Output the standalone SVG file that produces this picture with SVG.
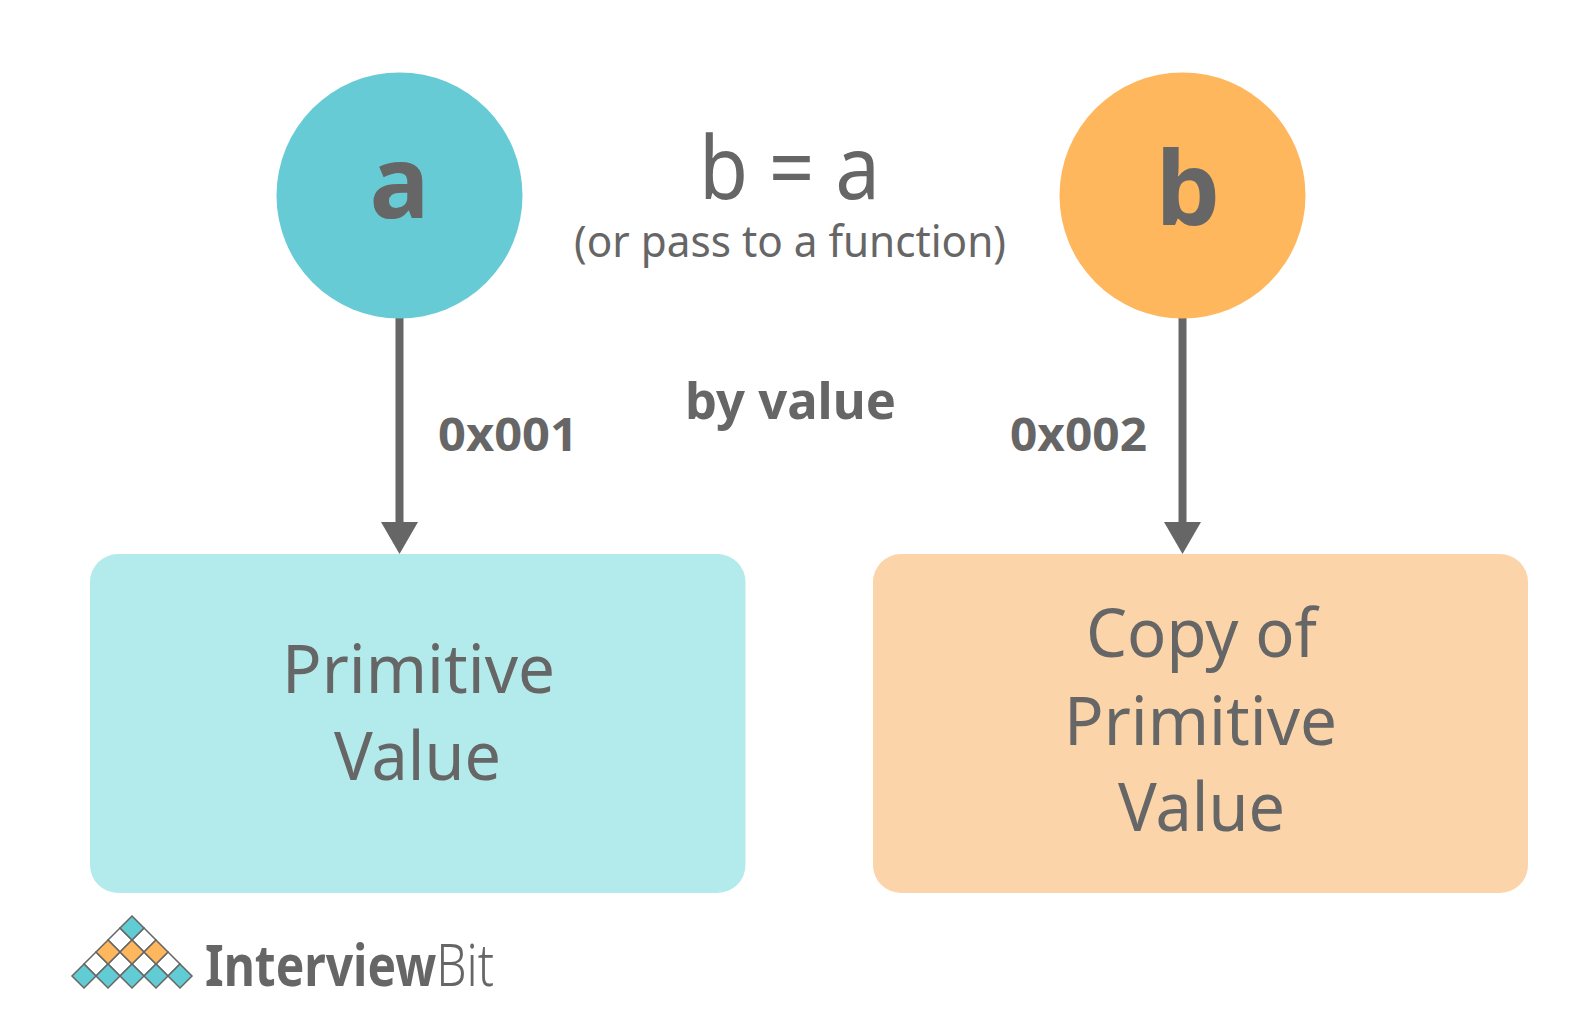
<svg xmlns="http://www.w3.org/2000/svg" width="1582" height="1032" viewBox="0 0 1582 1032">
<style>
text{font-family:"Noto Sans","Open Sans",sans-serif;fill:#666666}
.b{font-weight:700}
.conn{stroke:#666666;stroke-width:8;fill:none}
.t{fill:#62ccd4}.o{fill:#ffb75d}.w{fill:#ffffff}
.d{stroke:#666666;stroke-width:1.5}
</style>
<defs>
<path id="dm" d="M0-12L12 0L0 12L-12 0Z"/>
</defs>
<rect width="1582" height="1032" fill="#fff"/>
<g id="connectors">
<path class="conn" d="M399.500 316V522"/>
<path class="conn" d="M1182.500 316V522"/>
<path d="M381 522H418L399.500 554Z" fill="#666666"/>
<path d="M1164 522H1201L1182.500 554Z" fill="#666666"/>
</g>
<g id="node-a"><circle cx="399.500" cy="195.500" r="123" fill="#67cbd5"/><text class="b" x="399.500" y="218" font-size="100" text-anchor="middle">a</text></g>
<g id="node-b"><circle cx="1182.500" cy="195.500" r="123" fill="#ffb75d"/><text class="b" x="1188" y="225" font-size="102" text-anchor="middle">b</text></g>
<g id="box-primitive"><rect x="90" y="554" width="655.500" height="339" rx="28" fill="#b3eaeb"/>
<text x="282" y="693" font-size="68" textLength="273" lengthAdjust="spacingAndGlyphs">Primitive</text>
<text x="334" y="780" font-size="68" textLength="167" lengthAdjust="spacingAndGlyphs">Value</text></g>
<g id="box-copy"><rect x="873" y="554" width="655" height="339" rx="28" fill="#fbd4aa"/>
<text x="1086" y="657" font-size="68" textLength="231" lengthAdjust="spacingAndGlyphs">Copy of</text>
<text x="1064" y="745" font-size="68" textLength="273" lengthAdjust="spacingAndGlyphs">Primitive</text>
<text x="1118" y="831" font-size="68" textLength="167" lengthAdjust="spacingAndGlyphs">Value</text></g>
<g id="labels">
<text x="699" y="199" font-size="88" textLength="181" lengthAdjust="spacingAndGlyphs">b = a</text>
<text x="574" y="257" font-size="44" textLength="432" lengthAdjust="spacingAndGlyphs">(or pass to a function)</text>
<text class="b" x="685" y="419" font-size="50" textLength="211" lengthAdjust="spacingAndGlyphs">by value</text>
<text class="b" x="438" y="451" font-size="47" textLength="140" lengthAdjust="spacingAndGlyphs">0x001</text>
<text class="b" x="1010" y="451" font-size="47" textLength="137" lengthAdjust="spacingAndGlyphs">0x002</text>
</g>
<g id="logo">
<g class="d">
<use href="#dm" x="96" y="964" class="w"/><use href="#dm" x="120" y="964" class="w"/><use href="#dm" x="144" y="964" class="w"/><use href="#dm" x="168" y="964" class="w"/>
<use href="#dm" x="120" y="940" class="w"/><use href="#dm" x="144" y="940" class="w"/>
<use href="#dm" x="132" y="928" class="t"/>
<use href="#dm" x="108" y="952" class="o"/><use href="#dm" x="132" y="952" class="o"/><use href="#dm" x="156" y="952" class="o"/>
<use href="#dm" x="84" y="976" class="t"/><use href="#dm" x="108" y="976" class="t"/><use href="#dm" x="132" y="976" class="t"/><use href="#dm" x="156" y="976" class="t"/><use href="#dm" x="180" y="976" class="t"/>
</g>
<text x="205" y="986" font-size="58" font-weight="700" textLength="289" lengthAdjust="spacingAndGlyphs">Interview<tspan font-weight="300">Bit</tspan></text>
</g>
</svg>
